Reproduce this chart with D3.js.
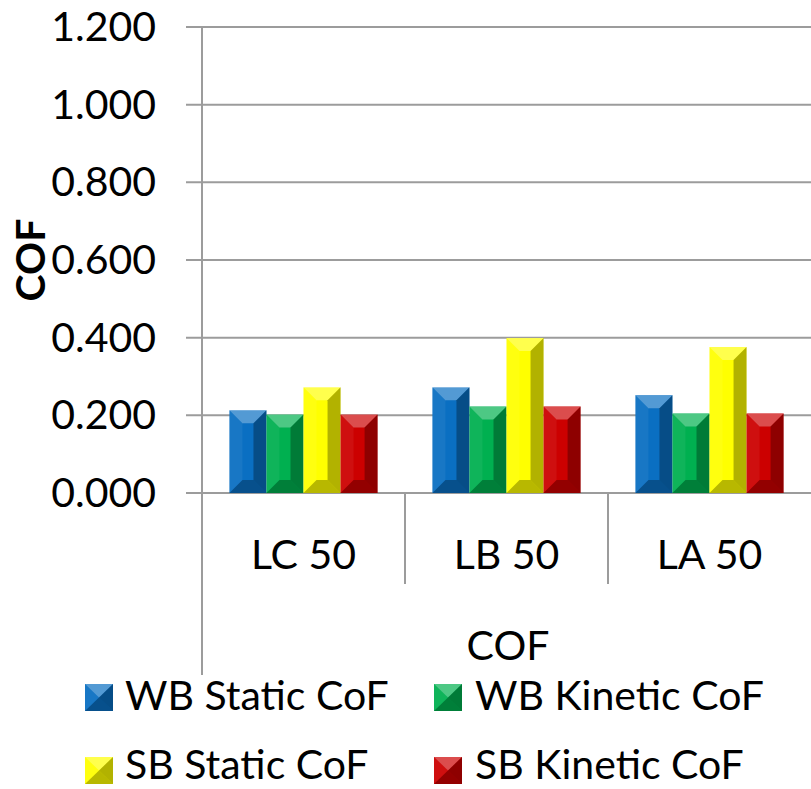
<!DOCTYPE html>
<html>
<head>
<meta charset="utf-8">
<script src="https://cdn.jsdelivr.net/npm/d3@7"></script>
<style>
  body { margin: 0; background: #fff; }
  svg text { font-family: Lato, "Open Sans", sans-serif; fill: #000; }
</style>
</head>
<body>
<div id="chart"></div>
<script>
const categories = ["LC 50", "LB 50", "LA 50"];
const seriesNames = ["WB Static CoF", "WB Kinetic CoF", "SB Static CoF", "SB Kinetic CoF"];
const seriesColors = ["#0a6fc2", "#00b050", "#ffff00", "#cc0000"];
// values per series, in category order
const wbStatic = [0.213, 0.272, 0.252];
const wbKinetic = [0.202, 0.223, 0.205];
const sbStatic = [0.272, 0.399, 0.376];
const sbKinetic = [0.202, 0.223, 0.205];
const yTicks = [0, 0.2, 0.4, 0.6, 0.8, 1.0, 1.2];

const allSeries = [wbStatic, wbKinetic, sbStatic, sbKinetic];

const width = 811, height = 789;
const plotLeft = 202, plotRight = 811, plotTop = 27, plotBottom = 493;
const gridColor = "#9c9c9c";
const fontSize = 41;

const svg = d3.select("#chart").append("svg")
    .attr("width", width)
    .attr("height", height);

const x0 = d3.scaleBand().domain(categories).range([plotLeft, plotRight]);
const x1 = d3.scaleBand().domain(seriesNames).range([0, x0.bandwidth()])
    .paddingInner(0).paddingOuter(0.74);
const y = d3.scaleLinear().domain([0, 1.2]).range([plotBottom, plotTop]);

// gridlines + left ticks
svg.append("g").selectAll("line")
    .data(yTicks).join("line")
    .attr("x1", plotLeft - 16).attr("x2", plotRight)
    .attr("y1", d => y(d)).attr("y2", d => y(d))
    .attr("stroke", gridColor).attr("stroke-width", 2);

// y tick labels
svg.append("g").selectAll("text")
    .data(yTicks).join("text")
    .attr("x", 156).attr("y", d => y(d) + 14)
    .attr("text-anchor", "end")
    .attr("font-size", fontSize)
    .text(d => d3.format(".3f")(d));

// vertical axis line, extending through the category label area
svg.append("line")
    .attr("x1", plotLeft).attr("x2", plotLeft)
    .attr("y1", plotTop).attr("y2", 675)
    .attr("stroke", gridColor).attr("stroke-width", 2);

// category separators
svg.append("g").selectAll("line")
    .data(categories.slice(1)).join("line")
    .attr("x1", d => x0(d)).attr("x2", d => x0(d))
    .attr("y1", plotBottom).attr("y2", 584)
    .attr("stroke", gridColor).attr("stroke-width", 2);

// category labels
svg.append("g").selectAll("text")
    .data(categories).join("text")
    .attr("x", d => x0(d) + x0.bandwidth() / 2)
    .attr("y", 569)
    .attr("text-anchor", "middle")
    .attr("font-size", fontSize)
    .text(d => d);

// bevelled bar drawing
function bevel(g, x, yTop, w, h, color, b) {
    g.append("rect").attr("x", x).attr("y", yTop).attr("width", w).attr("height", h)
        .attr("fill", color);
    const bx = Math.min(b, w / 2), by = Math.min(b, h / 2);
    const x2 = x + w, y2 = yTop + h;
    const faces = [
        { pts: [[x, yTop], [x2, yTop], [x2 - bx, yTop + by], [x + bx, yTop + by]], fill: "#fff", op: 0.3 },
        { pts: [[x, yTop], [x + bx, yTop + by], [x + bx, y2 - by], [x, y2]], fill: "#fff", op: 0.06 },
        { pts: [[x2, yTop], [x2, y2], [x2 - bx, y2 - by], [x2 - bx, yTop + by]], fill: "#000", op: 0.3 },
        { pts: [[x, y2], [x + bx, y2 - by], [x2 - bx, y2 - by], [x2, y2]], fill: "#000", op: 0.28 }
    ];
    faces.forEach(f => {
        g.append("polygon")
            .attr("points", f.pts.map(p => p.join(",")).join(" "))
            .attr("fill", f.fill).attr("fill-opacity", f.op);
    });
}

const bars = svg.append("g");
categories.forEach((cat, ci) => {
    seriesNames.forEach((s, si) => {
        const v = allSeries[si][ci];
        const bx = x0(cat) + x1(s);
        bevel(bars, bx, y(v), x1.bandwidth(), y(0) - y(v), seriesColors[si], 13);
    });
});

// axis titles
svg.append("text")
    .attr("transform", "translate(45,260) rotate(-90)")
    .attr("text-anchor", "middle")
    .attr("font-size", fontSize)
    .attr("font-weight", "bold")
    .text("COF");

svg.append("text")
    .attr("x", 508).attr("y", 660)
    .attr("text-anchor", "middle")
    .attr("font-size", fontSize)
    .text("COF");

// legend
const legendPos = [
    { mx: 85, tx: 125, mBase: 711, base: 710 },
    { mx: 434, tx: 475, mBase: 711, base: 710 },
    { mx: 85, tx: 125, mBase: 784, base: 779 },
    { mx: 434, tx: 475, mBase: 784, base: 779 }
];
const legend = svg.append("g");
seriesNames.forEach((s, i) => {
    const p = legendPos[i];
    bevel(legend, p.mx, p.mBase - 27, 28, 27, seriesColors[i], 14);
    legend.append("text")
        .attr("x", p.tx).attr("y", p.base)
        .attr("font-size", fontSize)
        .text(s);
});
</script>
</body>
</html>
